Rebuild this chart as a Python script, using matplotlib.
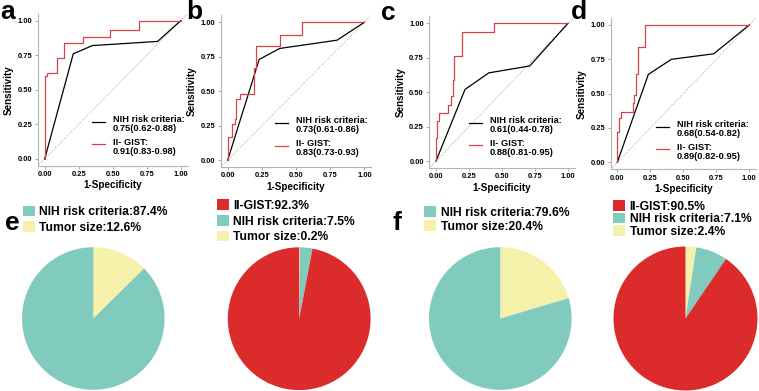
import matplotlib
matplotlib.use("Agg")
import matplotlib.pyplot as plt
from matplotlib.lines import Line2D
from matplotlib.patches import Patch

plt.rcParams['font.family'] = ['Liberation Sans', 'DejaVu Sans']
plt.rcParams['font.weight'] = 'bold'

# ROC data (1-specificity, sensitivity)
a_nih_x = [0, 0.21, 0.35, 0.83, 1]
a_nih_y = [0, 0.76, 0.82, 0.85, 1]
a_gist_x = [0, 0, 0.02, 0.02, 0.09, 0.09, 0.14, 0.14, 0.28, 0.28, 0.48, 0.48, 0.69, 0.69, 1]
a_gist_y = [0, 0.60, 0.60, 0.62, 0.62, 0.73, 0.73, 0.84, 0.84, 0.88, 0.88, 0.93, 0.93, 1.0, 1.0]

b_nih_x = [0, 0.23, 0.38, 0.80, 1]
b_nih_y = [0, 0.73, 0.81, 0.87, 1]
b_gist_x = [0, 0, 0.03, 0.03, 0.05, 0.05, 0.06, 0.06, 0.09, 0.09, 0.19, 0.19, 0.21, 0.21,
            0.38, 0.38, 0.54, 0.54, 1]
b_gist_y = [0, 0.17, 0.17, 0.26, 0.26, 0.30, 0.30, 0.44, 0.44, 0.48, 0.48, 0.67, 0.67, 0.83,
            0.83, 0.91, 0.91, 1.0, 1.0]

c_nih_x = [0, 0.22, 0.40, 0.71, 1]
c_nih_y = [0, 0.52, 0.64, 0.69, 1]
c_gist_x = [0, 0, 0.01, 0.01, 0.02, 0.02, 0.09, 0.09, 0.11, 0.11, 0.13, 0.13, 0.14, 0.14,
            0.20, 0.20, 0.44, 0.44, 1]
c_gist_y = [0, 0.17, 0.17, 0.29, 0.29, 0.35, 0.35, 0.41, 0.41, 0.47, 0.47, 0.59, 0.59, 0.76,
            0.76, 0.94, 0.94, 1.0, 1.0]

d_nih_x = [0, 0.235, 0.41, 0.73, 1]
d_nih_y = [0, 0.64, 0.75, 0.79, 1]
d_gist_x = [0, 0, 0.01, 0.01, 0.03, 0.03, 0.12, 0.12, 0.13, 0.13, 0.14, 0.14, 0.16, 0.16,
            0.21, 0.21, 1]
d_gist_y = [0, 0.22, 0.22, 0.32, 0.32, 0.37, 0.37, 0.43, 0.43, 0.49, 0.49, 0.64, 0.64, 0.84,
            0.84, 1.0, 1.0]

nih_labels = ["NIH risk criteria:\n0.75(0.62-0.88)", "NIH risk criteria:\n0.73(0.61-0.86)",
              "NIH risk criteria:\n0.61(0.44-0.78)", "NIH risk criteria:\n0.68(0.54-0.82)"]
gist_labels = ["II- GIST:\n0.91(0.83-0.98)", "II- GIST:\n0.83(0.73-0.93)",
               "II- GIST:\n0.88(0.81-0.95)", "II- GIST:\n0.89(0.82-0.95)"]

# pie data: slices drawn clockwise from top (tumor size, NIH, II-GIST)
e1_vals = [12.6, 87.4]
e2_vals = [0.2, 2.8, 97.0]
f1_vals = [20.4, 79.6]
f2_vals = [2.4, 7.1, 90.5]
e1_legend = ["NIH risk criteria:87.4%", "Tumor size:12.6%"]
e2_legend = ["II-GIST:92.3%", "NIH risk criteria:7.5%", "Tumor size:0.2%"]
f1_legend = ["NIH risk criteria:79.6%", "Tumor size:20.4%"]
f2_legend = ["II-GIST:90.5%", "NIH risk criteria:7.1%", "Tumor size:2.4%"]

W, H = 759, 391
RED = '#d9414c'
PIE_RED = '#db2b2b'
TEAL = '#80cbbe'
YELLOW = '#f5f0aa'

fig = plt.figure(figsize=(W / 100, H / 100), dpi=100)


def px_axes(left, top, width, height):
    return fig.add_axes([left / W, 1 - (top + height) / H, width / W, height / H])


roc_boxes = [(37.9, 13.8, 149.6, 152.0), (220.9, 15.4, 150.3, 151.5),
             (429.4, 16.4, 145.2, 151.5), (610.7, 18.1, 145.2, 151.1)]
roc_data = [(a_nih_x, a_nih_y, a_gist_x, a_gist_y), (b_nih_x, b_nih_y, b_gist_x, b_gist_y),
            (c_nih_x, c_nih_y, c_gist_x, c_gist_y), (d_nih_x, d_nih_y, d_gist_x, d_gist_y)]
leg_anchor = [(0.345, 0.02), (0.346, 0.02), (0.25, 0.03), (0.29, 0.01)]

for i, box in enumerate(roc_boxes):
    ax = px_axes(*box)
    nx, ny, gx, gy = roc_data[i]
    ax.plot([-0.05, 1.05], [-0.05, 1.05], ls=(0, (1, 1.5)), color='#999999', lw=0.6)
    ax.plot(nx, ny, color='black', lw=0.9)
    ax.plot(gx, gy, color=RED, lw=0.9)
    ax.set_xlim(-0.05, 1.05)
    ax.set_ylim(-0.05, 1.05)
    ticks = [0, 0.25, 0.5, 0.75, 1.0]
    ax.set_xticks(ticks)
    ax.set_yticks(ticks)
    ax.set_xticklabels(["0.00", "0.25", "0.50", "0.75", "1.00"], fontsize=5.4, fontweight='bold')
    ax.set_yticklabels(["0.00", "0.25", "0.50", "0.75", "1.00"], fontsize=5.4, fontweight='bold')
    ax.tick_params(length=2.5, width=0.6, color='#999999', pad=1.5)
    for s in ['top', 'right']:
        ax.spines[s].set_visible(False)
    for s in ['left', 'bottom']:
        ax.spines[s].set_color('#b5b5b5')
        ax.spines[s].set_linewidth(0.8)
    ax.set_xlabel("1-Specificity", fontsize=7.1, fontweight='bold', labelpad=1.5)
    ax.set_ylabel("Sensitivity", fontsize=7.1, fontweight='bold', labelpad=2.5)
    handles = [Line2D([], [], color='black', lw=0.9), Line2D([], [], color=RED, lw=0.9)]
    leg = ax.legend(handles, [nih_labels[i], gist_labels[i]], loc='lower left',
                    bbox_to_anchor=leg_anchor[i], bbox_transform=ax.transData,
                    frameon=False, prop={'size': 6.7, 'weight': 'bold'},
                    handlelength=1.4, handleheight=2.5, handletextpad=0.85,
                    labelspacing=0.45, borderpad=0, borderaxespad=0)
    for t in leg.get_texts():
        t.set_linespacing(1.0)

# panel letters
for txt, x, y in [("a", 8, 12), ("b", 194, 12), ("c", 388, 13), ("d", 579, 12),
                  ("e", 12, 223), ("f", 397, 223)]:
    fig.text(x / W, 1 - y / H, txt, fontsize=19, fontweight='bold', ha='center', va='center')

# pies
pie_specs = [
    ((93.3, 318.5), 71.3, e1_vals, [YELLOW, TEAL]),
    ((299.2, 318.7), 71.4, e2_vals, [YELLOW, TEAL, PIE_RED]),
    ((500.3, 318.5), 71.3, f1_vals, [YELLOW, TEAL]),
    ((685.5, 318.5), 72.0, f2_vals, [YELLOW, TEAL, PIE_RED]),
]
for (cx, cy), r, vals, cols in pie_specs:
    ax = px_axes(cx - r, cy - r, 2 * r, 2 * r)
    ax.pie(vals, colors=cols, startangle=90, counterclock=False, radius=1,
           wedgeprops={'linewidth': 0})
    ax.set_xlim(-1, 1)
    ax.set_ylim(-1, 1)

legend_specs = [
    (22.5, 205.5, e1_legend, [TEAL, YELLOW], 0.25),
    (217.0, 199.5, e2_legend, [PIE_RED, TEAL, YELLOW], 0.25),
    (424.3, 206.0, f1_legend, [TEAL, YELLOW], 0.15),
    (613.3, 200.0, f2_legend, [PIE_RED, TEAL, YELLOW], 0.0),
]
for x, y, labels, cols, sp in legend_specs:
    handles = [Patch(facecolor=c, edgecolor='none') for c in cols]
    fig.legend(handles, labels, loc='upper left', bbox_to_anchor=(x / W, 1 - y / H),
               frameon=False, prop={'size': 8.7, 'weight': 'bold'},
               handlelength=1.0, handleheight=1.0, handletextpad=0.35,
               labelspacing=sp, borderpad=0, borderaxespad=0)

fig.savefig("out.png", dpi=100)
